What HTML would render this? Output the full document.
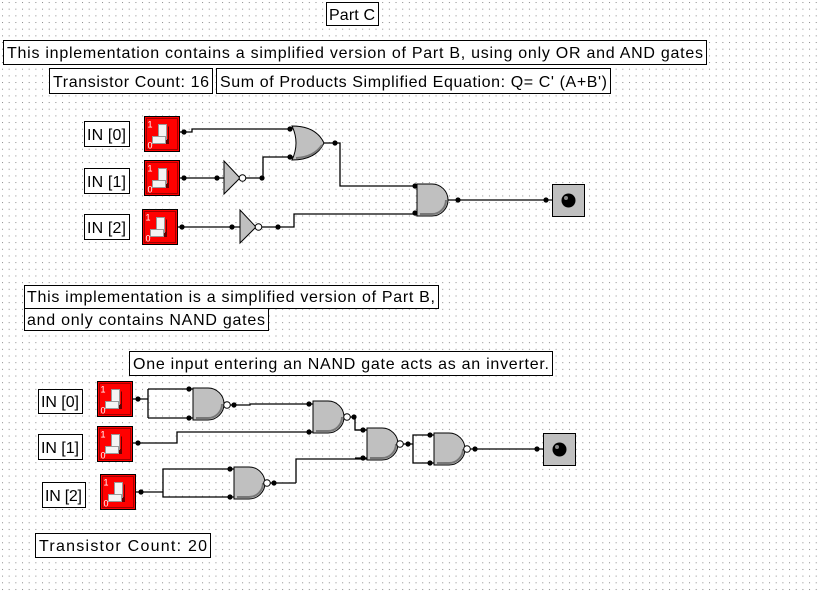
<!DOCTYPE html>
<html><head><meta charset="utf-8"><style>
html,body{margin:0;padding:0;background:#fff}
svg{display:block}
text{font-family:"Liberation Sans",sans-serif;font-size:16px;fill:#000}
</style></head><body>
<svg width="820" height="591" xmlns="http://www.w3.org/2000/svg">
<defs>
<pattern id="dots" x="2" y="2" width="6.67" height="6.67" patternUnits="userSpaceOnUse">
<rect width="1" height="1" fill="#8a8a8a"/>
</pattern>
<g id="sw">
<rect x="0" y="0" width="35" height="35" fill="#ff0000" stroke="#000"/>
<rect x="2" y="2" width="31" height="31" fill="none" stroke="#a00000"/>
<path d="M24,27 h-14 l4,-4 h10 z M24,10 v17" fill="#600" stroke="#600"/>
<rect x="14" y="8" width="8" height="15" fill="#f4f4f4" stroke="#999"/>
<path d="M8,20 h13 v7 h-13 z" fill="#f4f4f4" stroke="#999"/>
<text x="3" y="11" style="font-size:9px;fill:#fff">1</text>
<text x="3" y="32" style="font-size:9px;fill:#fff">0</text>
</g>
<g id="and">
<path d="M0,0 H15 A16,16 0 0 1 15,32 H0 Z" fill="#c0c0c0" stroke="#000"/>
<path d="M3,30 H15 A14,14 0 0 0 29,16" fill="none" stroke="#777" stroke-width="2"/>
</g>
<g id="dot"><circle r="2.6" fill="#000"/></g>
<g id="bub"><circle r="3.3" fill="#fff" stroke="#000"/></g>
</defs>
<rect width="820" height="591" fill="url(#dots)"/>

<g fill="#fff" stroke="#000">
<rect x="326.5" y="2.5" width="52" height="23"/>
<rect x="3.5" y="40.5" width="703" height="24"/>
<rect x="49.5" y="68.5" width="163" height="25"/>
<rect x="216.5" y="68.5" width="394" height="25"/>
<rect x="84.5" y="121.5" width="45" height="25"/>
<rect x="84.5" y="168.5" width="45" height="25"/>
<rect x="84.5" y="214.5" width="45" height="25"/>
<rect x="24.5" y="285.5" width="414" height="23"/>
<rect x="24.5" y="308.5" width="244" height="22"/>
<rect x="129.5" y="351.5" width="423" height="24"/>
<rect x="38.5" y="389.5" width="44" height="24"/>
<rect x="38.5" y="434.5" width="44" height="25"/>
<rect x="42.5" y="482.5" width="43" height="25"/>
<rect x="35.5" y="533.5" width="175" height="24"/>
</g>
<text x="329" y="20" textLength="46">Part C</text>
<text x="7" y="58" textLength="696">This inplementation contains a simplified version of Part B, using only OR and AND gates</text>
<text x="53" y="87" textLength="156">Transistor Count: 16</text>
<text x="220" y="87" textLength="387">Sum of Products Simplified Equation: Q= C' (A+B')</text>
<text x="87" y="140" textLength="39">IN [0]</text>
<text x="87" y="187" textLength="39">IN [1]</text>
<text x="87" y="233" textLength="39">IN [2]</text>
<text x="27" y="302" textLength="408">This implementation is a simplified version of Part B,</text>
<text x="27" y="325" textLength="238">and only contains NAND gates</text>
<text x="133" y="369" textLength="416">One input entering an NAND gate acts as an inverter.</text>
<text x="41" y="407" textLength="38">IN [0]</text>
<text x="41" y="453" textLength="38">IN [1]</text>
<text x="45" y="501" textLength="37">IN [2]</text>
<text x="39" y="551" textLength="168">Transistor Count: 20</text>

<use href="#sw" x="144.5" y="116.5"/>
<use href="#sw" x="144.5" y="160.5"/>
<use href="#sw" x="142.5" y="209.5"/>
<use href="#sw" x="97.5" y="381.5"/>
<use href="#sw" x="97.5" y="426.5"/>
<use href="#sw" x="100.5" y="474.5"/>

<g fill="none" stroke="#000" stroke-width="1.3">
<path d="M180,132 H192 V129 H292"/>
<path d="M180,178 H224"/>
<path d="M245,178 H263 V157 H294"/>
<path d="M324,143 H340 V186 H417"/>
<path d="M178,227 H240"/>
<path d="M261,227 H294 V214 H417"/>
<path d="M448,200 H552"/>
<path d="M133,399 H148 M148,389 V418 M148,389 H193 M148,418 H193"/>
<path d="M230,405 H250 V404 H313"/>
<path d="M133,443 H177 V432 H313"/>
<path d="M350,417 H355 V430 H367"/>
<path d="M355,430 H367 M355,458 H367"/>
<path d="M296,483 V459 H367"/>
<path d="M403,444 H413 V435 H434 M413,444 V463 H434"/>
<path d="M470,449 H543"/>
<path d="M136,492 H163 V469 H234 M163,492 V497 H234"/>
<path d="M270,483 H296"/>
</g>

<path d="M292,126 Q300,143 292,160 Q316,160 324,143 Q316,126 292,126 Z" fill="#c0c0c0" stroke="#000"/>
<path d="M296,158 Q314,157 322,145" fill="none" stroke="#777" stroke-width="2"/>
<path d="M224,161 L240,178 L224,194 Z" fill="#c0c0c0" stroke="#000"/>
<use href="#bub" x="242.5" y="178"/>
<path d="M240,210 L256,227 L240,243 Z" fill="#c0c0c0" stroke="#000"/>
<use href="#bub" x="258.5" y="227"/>
<use href="#and" x="417" y="184"/>
<use href="#and" x="193" y="388"/>
<use href="#and" x="313" y="401"/>
<use href="#and" x="367" y="428"/>
<use href="#and" x="434" y="433"/>
<use href="#and" x="234" y="467"/>
<use href="#bub" x="227" y="405"/>
<use href="#bub" x="347" y="417"/>
<use href="#bub" x="400" y="444"/>
<use href="#bub" x="467" y="449"/>
<use href="#bub" x="267" y="483"/>

<g>
<rect x="552.5" y="184.5" width="32" height="32" fill="#c0c0c0" stroke="#000"/>
<circle cx="568.5" cy="200.5" r="7" fill="#000"/><circle cx="566" cy="198" r="2" fill="#888"/>
<rect x="543.5" y="433.5" width="32" height="32" fill="#c0c0c0" stroke="#000"/>
<circle cx="559.5" cy="449.5" r="7" fill="#000"/><circle cx="557" cy="447" r="2" fill="#888"/>
</g>

<use href="#dot" x="184" y="132"/><use href="#dot" x="290" y="129"/><use href="#dot" x="290" y="157"/>
<use href="#dot" x="184" y="178"/><use href="#dot" x="217" y="178"/><use href="#dot" x="262" y="178"/>
<use href="#dot" x="335" y="143"/><use href="#dot" x="415" y="186"/><use href="#dot" x="415" y="213"/>
<use href="#dot" x="182" y="227"/><use href="#dot" x="232" y="227"/><use href="#dot" x="278" y="227"/>
<use href="#dot" x="458" y="200"/><use href="#dot" x="546" y="200"/>
<use href="#dot" x="138" y="399"/><use href="#dot" x="189" y="389"/><use href="#dot" x="189" y="418"/>
<use href="#dot" x="234" y="405"/><use href="#dot" x="309" y="404"/><use href="#dot" x="309" y="432"/>
<use href="#dot" x="138" y="443"/><use href="#dot" x="354" y="417"/><use href="#dot" x="363" y="430"/>
<use href="#dot" x="363" y="458"/><use href="#dot" x="408" y="444"/><use href="#dot" x="430" y="435"/>
<use href="#dot" x="430" y="463"/><use href="#dot" x="475" y="449"/><use href="#dot" x="537" y="449"/>
<use href="#dot" x="141" y="492"/><use href="#dot" x="230" y="469"/><use href="#dot" x="230" y="497"/>
<use href="#dot" x="274" y="483"/>
</svg>
</body></html>
